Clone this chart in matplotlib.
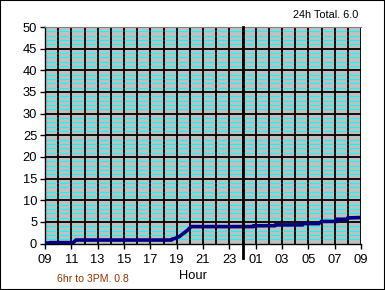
import matplotlib
matplotlib.use("Agg")
import matplotlib.pyplot as plt
from matplotlib.patches import Rectangle

plt.rcParams['font.family'] = ['Liberation Sans', 'DejaVu Sans']

# hours since 09:00 and cumulative rain
hours = [0.0, 0.38, 0.4, 2.15, 2.35, 9.6, 9.65, 9.9, 10.2, 10.5, 10.8, 11.1,
         15.8, 15.85, 17.45, 17.5, 19.55, 19.6, 20.8, 21.0, 22.15, 22.2,
         22.95, 23.0, 24.0]
rain = [0.1, 0.1, 0.2, 0.2, 0.8, 0.8, 1.0, 1.2, 1.6, 2.3, 3.0, 3.9,
        3.9, 4.1, 4.1, 4.3, 4.3, 4.6, 4.6, 5.1, 5.1, 5.6,
        5.6, 5.9, 6.0]

tick_hours = list(range(0, 25, 2))
tick_labels = ["09", "11", "13", "15", "17", "19", "21", "23",
               "01", "03", "05", "07", "09"]
midnight = 15
total_text = "24h Total. 6.0"
part_text = "6hr to 3PM. 0.8"

W, H = 385, 290
fig = plt.figure(figsize=(W / 100, H / 100), dpi=100)
fig.patches.append(Rectangle((0, 0), 1, 1, transform=fig.transFigure,
                             fill=False, edgecolor='black', linewidth=1.5))

left, right, top, bottom = 45, 361, 27, 243.5
ax = fig.add_axes([left / W, (H - bottom) / H, (right - left) / W, (bottom - top) / H])
ax.set_facecolor('#c0c0c0')
ax.set_xlim(0, 24)
ax.set_ylim(0, 50)

# grid
ax.hlines([v for v in range(1, 50) if v % 5], 0, 24, colors='#00ffff', lw=0.8, zorder=1)
ax.hlines(range(5, 50, 5), 0, 24, colors='black', lw=1.3, zorder=1.5)
ax.vlines(range(1, 25), 0, 50, colors='black', lw=1.3, zorder=1.5)

ax.plot(hours, rain, color='#000080', lw=2.6, zorder=3, solid_joinstyle='miter')

ax.axvline(midnight, ymin=-0.067, ymax=1.0, color='black', lw=2.0, clip_on=False, zorder=4)

ax.set_xticks(tick_hours)
ax.set_xticklabels(tick_labels)
ax.set_yticks(range(0, 51, 5))
ax.tick_params(direction='out', length=3.6, width=1, labelsize=9.3, colors='black')
ax.tick_params(axis='x', pad=4)
ax.tick_params(axis='y', pad=2)

ax.spines['top'].set_color('#808080')
ax.spines['right'].set_visible(False)
ax.spines['left'].set_linewidth(1)
ax.spines['bottom'].set_linewidth(1)

ax.set_xlabel("Hour", fontsize=9.3)
ax.xaxis.set_label_coords((193 - left) / (right - left), -(275.7 - bottom) / (bottom - top))
ax.xaxis.label.set_va('center')

fig.text(358 / W, 1 - 15.5 / H, total_text, ha='right', va='center', fontsize=7.8)
fig.text(57 / W, 1 - 279.5 / H, part_text, ha='left', va='center', fontsize=7.6, color='#993300')

fig.savefig("out.png", dpi=100)
